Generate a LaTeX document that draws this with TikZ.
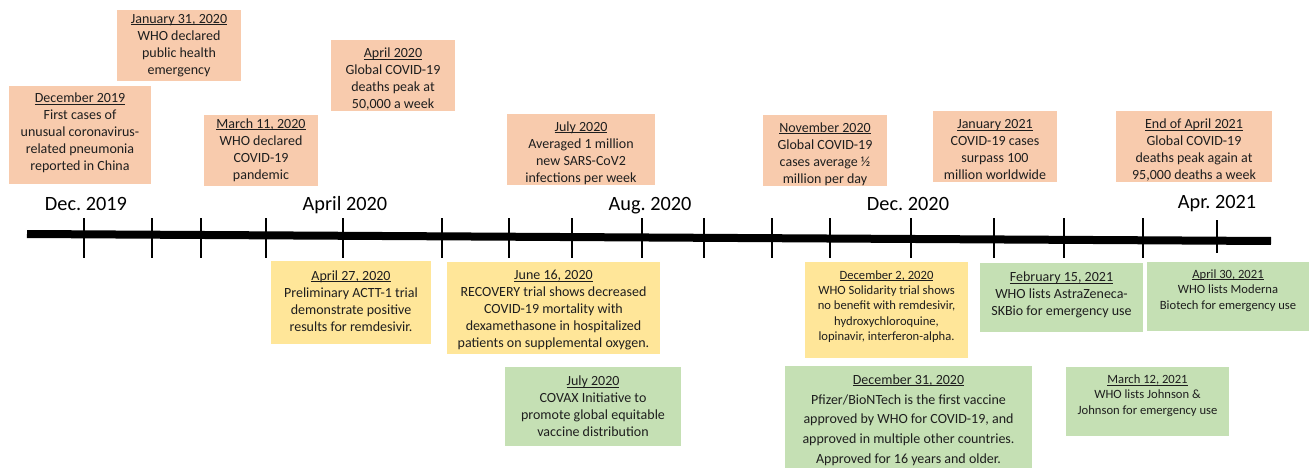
\documentclass[tikz,border=0pt]{standalone}
\usepackage{fontspec}
\setmainfont{Carlito}
\frenchspacing
\definecolor{peachc}{HTML}{F8CBAD}
\definecolor{goldc}{HTML}{FFE699}
\definecolor{greenc}{HTML}{C5E0B4}
\definecolor{textc}{HTML}{1E1E1E}
\newcommand{\dateul}[1]{\setbox0\hbox{#1}\rlap{\rule[-1.8pt]{\wd0}{0.75pt}}\box0}
\begin{document}
\begin{tikzpicture}[x=1pt,y=-1pt,
 evbox/.style={inner sep=0pt, outer sep=0pt, draw=none},
 peach/.style={evbox, fill=peachc},
 gold/.style={evbox, fill=goldc},
 leaf/.style={evbox, fill=greenc},
 evtext/.style={inner sep=0pt, align=center, text=textc, font=\fontsize{14}{17}\selectfont},
 evsmall/.style={evtext, font=\fontsize{12.6}{15.4}\selectfont},
 evwide/.style={evtext, font=\fontsize{14}{19.8}\selectfont},
 monthlbl/.style={anchor=base, inner sep=0pt, font=\fontsize{20.3}{24}\selectfont},
 axisline/.style={line width=8pt},
 tickmark/.style={line width=1.3pt}]
\clip (0,0) rectangle (1309,468);

% ---- top (peach) boxes
\node[peach, minimum width=142pt, minimum height=98pt] (b1) at (80,135) {};
\node[evtext] (t1) at (80,133) {\dateul{December 2019}\\First cases of\\unusual coronavirus-\\related pneumonia\\reported in China};

\node[peach, minimum width=124pt, minimum height=71pt] (b2) at (179,45.5) {};
\node[evtext] (t2) at (179,45.5) {\dateul{January 31, 2020}\\WHO declared\\public health\\emergency};

\node[peach, minimum width=114pt, minimum height=71pt] (b3) at (261,150.5) {};
\node[evtext] (t3) at (261,150) {\dateul{March 11, 2020}\\WHO declared\\COVID-19\\pandemic};

\node[peach, minimum width=124pt, minimum height=71pt] (b4) at (393,75.5) {};
\node[evtext] (t4) at (393,79.5) {\dateul{April 2020}\\Global COVID-19\\deaths peak at\\50,000 a week};

\node[peach, minimum width=148pt, minimum height=71pt] (b5) at (581,149.5) {};
\node[evtext] (t5) at (581,153) {\dateul{July 2020}\\Averaged 1 million\\new SARS-CoV2\\infections per week};

\node[peach, minimum width=124pt, minimum height=71pt] (b6) at (825,150.5) {};
\node[evtext] (t6) at (825,154) {\dateul{November 2020}\\Global COVID-19\\cases average ½\\million per day};

\node[peach, minimum width=124pt, minimum height=71pt] (b7) at (995,146.5) {};
\node[evtext] (t7) at (995,150) {\dateul{January 2021}\\COVID-19 cases\\surpass 100\\million worldwide};

\node[peach, minimum width=156pt, minimum height=71pt] (b8) at (1194,146.5) {};
\node[evtext] (t8) at (1194,150) {\dateul{End of April 2021}\\Global COVID-19\\deaths peak again at\\95,000 deaths a week};

% ---- bottom (gold) boxes
\node[gold, minimum width=160pt, minimum height=83pt] (b9) at (351,302.5) {};
\node[evtext] (t9) at (351,301) {\dateul{April 27, 2020}\\Preliminary ACTT-1 trial\\demonstrate positive\\results for remdesivir.};

\node[gold, minimum width=213pt, minimum height=92pt] (b10) at (553.5,308) {};
\node[evtext] (t10) at (553.5,310) {\dateul{June 16, 2020}\\RECOVERY trial shows decreased\\COVID-19 mortality with\\dexamethasone in hospitalized\\patients on supplemental oxygen.};

\node[gold, minimum width=163pt, minimum height=96pt] (b12) at (886.5,310) {};
\node[evsmall] (t12) at (886.5,306.5) {\dateul{December 2, 2020}\\WHO Solidarity trial shows\\no benefit with remdesivir,\\hydroxychloroquine,\\lopinavir, interferon-alpha.};

% ---- bottom (green) boxes
\node[leaf, minimum width=176pt, minimum height=79pt] (b11) at (593,406.5) {};
\node[evtext] (t11) at (593,406.5) {\dateul{July 2020}\\COVAX Initiative to\\promote global equitable\\vaccine distribution};

\node[leaf, minimum width=163pt, minimum height=69pt] (b13) at (1061.5,297.5) {};
\node[evtext] (t13) at (1061.5,295) {\dateul{February 15, 2021}\\WHO lists AstraZeneca-\\SKBio for emergency use};

\node[leaf, minimum width=162pt, minimum height=69pt] (b14) at (1228,296.5) {};
\node[evsmall] (t14) at (1228,290.5) {\dateul{April 30, 2021}\\WHO lists Moderna\\Biotech for emergency use};

\node[leaf, minimum width=247pt, minimum height=114pt] (b15) at (908.5,423) {};
\node[evwide] (t15) at (908.5,420.2) {\dateul{December 31, 2020}\\Pfizer/BioNTech is the first vaccine\\approved by WHO for COVID-19, and\\approved in multiple other countries.\\Approved for 16 years and older.};

\node[leaf, minimum width=163pt, minimum height=69pt] (b16) at (1147.5,401.5) {};
\node[evsmall] (t16) at (1147.5,395.7) {\dateul{March 12, 2021}\\WHO lists Johnson \&\\Johnson for emergency use};

% ---- axis
\coordinate (axL) at (27,234);
\coordinate (axR) at (1271,241);
\draw[axisline] (axL) -- (axR);
\foreach \x in {84,152,201,266,343,442,509,572,642,704,772,830,911,994,1064,1143}
  \draw[tickmark] (\x,218) -- (\x,258);
\draw[tickmark] (1217,220) -- (1217,253);

\node[monthlbl] (m1) at (86,210) {Dec. 2019};
\node[monthlbl] (m2) at (345,210) {April 2020};
\node[monthlbl] (m3) at (650,210) {Aug. 2020};
\node[monthlbl] (m4) at (908,210) {Dec. 2020};
\node[monthlbl] (m5) at (1217,208.5) {Apr. 2021};
\end{tikzpicture}
\end{document}
